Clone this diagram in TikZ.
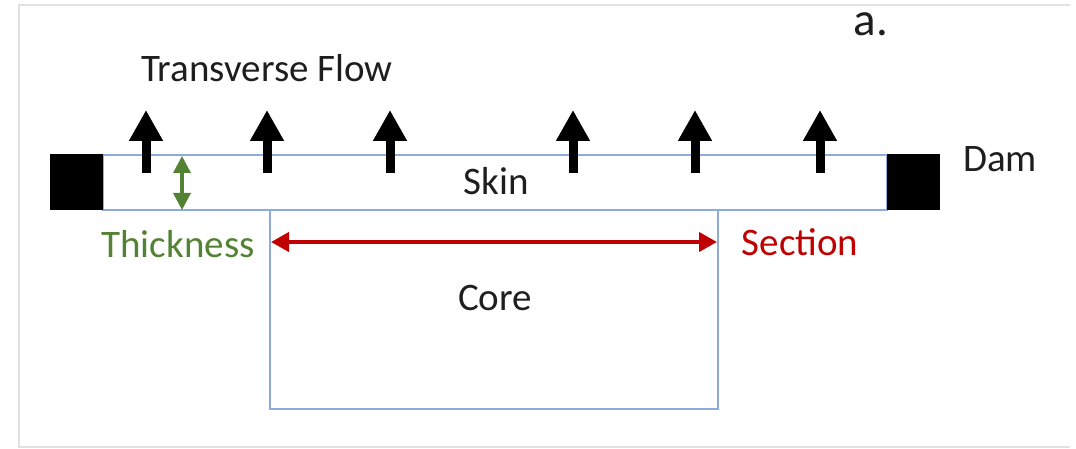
\documentclass[tikz,border=0pt]{standalone}
\usepackage{fontspec}
\setmainfont{Carlito}
\usetikzlibrary{arrows.meta}
\definecolor{skinblue}{RGB}{143,170,220}
\definecolor{thgreen}{RGB}{84,130,53}
\definecolor{secred}{RGB}{192,0,0}
\definecolor{txtgray}{RGB}{30,30,30}
\definecolor{framegray}{RGB}{225,225,225}
\tikzset{
  lbl/.style={inner sep=0pt, anchor=base, font=\fontsize{39}{44}\selectfont, text=txtgray},
  dam/.style={fill=black, draw=none, minimum width=53pt, minimum height=56pt, inner sep=0pt},
  flow/.style={line width=9pt, -{Triangle[width=32pt,length=31pt]}},
  bluebox/.style={draw=skinblue, line width=2.5pt},
  thk/.style={draw=thgreen, line width=3.5pt, {Triangle[width=17pt,length=17pt]}-{Triangle[width=17pt,length=17pt]}},
  sec/.style={draw=secred, line width=4pt, {Triangle[width=19pt,length=18pt]}-{Triangle[width=19pt,length=18pt]}}
}
\begin{document}
\begin{tikzpicture}[x=1pt,y=-1pt]
\useasboundingbox (0,0) rectangle (1076,449);
% frame
\draw[framegray, line width=1.5pt] (1070,5) -- (19,5) -- (19,447) -- (1070,447);
% skin and core
\path (103,155) coordinate (skinTL) (887,210) coordinate (skinBR);
\path (270,210) coordinate (coreTL) (718,409) coordinate (coreBR);
\draw[bluebox] (skinTL) rectangle (skinBR);
\draw[bluebox] (coreTL) rectangle (coreBR);
% dams
\node[dam] (damL) at (76.5,182) {};
\node[dam] (damR) at (913.5,182) {};
% flow arrows
\foreach \i/\x in {1/146,2/267,3/390,4/573,5/695,6/820}{
  \coordinate (ft\i) at (\x,173);
  \coordinate (fh\i) at (\x,110);
  \draw[flow] (ft\i) -- (fh\i);
}
% thickness arrow
\coordinate (thA) at (182,156);
\coordinate (thB) at (182,210);
\draw[thk] (thA) -- (thB);
% section arrow
\coordinate (secA) at (271,242);
\coordinate (secB) at (717,242);
\draw[sec] (secA) -- (secB);
% labels
\node[lbl] (tf) at (267,82) {Transverse Flow};
\node[lbl, font=\fontsize{47}{52}\selectfont] (a) at (871,36) {a.};
\node[lbl] (damlbl) at (1000,172) {Dam};
\node[lbl] (skin) at (496,195) {Skin};
\node[lbl, text=thgreen] (thick) at (178,257) {Thickness};
\node[lbl, text=secred] (section) at (800,255) {Section};
\node[lbl] (core) at (495,310) {Core};
\end{tikzpicture}
\end{document}
